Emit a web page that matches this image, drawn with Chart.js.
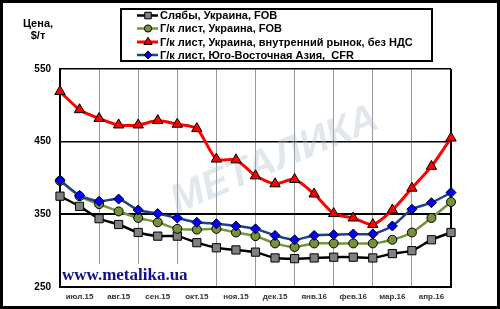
<!DOCTYPE html>
<html>
<head>
<meta charset="utf-8">
<script src="https://cdn.jsdelivr.net/npm/chart.js@4"></script>
<style>
  body { margin: 0; background: #fff; }
  #wrap { width: 500px; height: 309px; position: relative; }
</style>
</head>
<body>
<div id="wrap"><canvas id="chart"></canvas></div>
<script>
const months = ['июл.15', 'авг.15', 'сен.15', 'окт.15', 'ноя.15', 'дек.15', 'янв.16', 'фев.16', 'мар.16', 'апр.16'];

// two readings per month, 21 points
const slabsUa = [375, 361, 344, 336, 325, 320, 320, 311, 304, 301, 298, 290, 289, 290, 291, 291, 290, 296, 300, 315, 325];
const hrcUaFob = [396, 375, 364, 354, 345, 339, 330, 329, 330, 325, 320, 310, 305, 310, 310, 310, 310, 315, 325, 345, 367];
const hrcUaDomestic = [519, 494, 482, 473, 473, 479, 474, 468, 426, 425, 403, 392, 398, 378, 351, 345, 336, 356, 386, 416, 455];
const hrcSeAsia = [397, 376, 368, 371, 356, 351, 345, 339, 337, 334, 330, 321, 315, 321, 322, 323, 323, 334, 357, 366, 380];

const seriesNames = [
    'Слябы, Украина, FOB',
    'Г/к лист, Украина, FOB',
    'Г/к лист, Украина, внутренний рынок, без НДС',
    'Г/к лист, Юго-Восточная Азия,  CFR'
];

// month label sits on every odd point, between the month gridlines
const categories = [];
for (let i = 0; i < slabsUa.length; i++) {
    categories.push(i % 2 === 1 ? months[(i - 1) / 2] : '');
}

const datasets = [
    { label: seriesNames[3], data: hrcSeAsia, borderColor: '#1F3F8F', backgroundColor: '#0000FF',
      pointStyle: 'rectRot', pointRadius: 5, borderWidth: 2.5, order: 0 },
    { label: seriesNames[1], data: hrcUaFob, borderColor: '#76923C', backgroundColor: '#76923C',
      pointStyle: 'circle', pointRadius: 4.5, borderWidth: 2.5, order: 1 },
    { label: seriesNames[2], data: hrcUaDomestic, borderColor: '#FF0000', backgroundColor: '#FF0000',
      pointStyle: 'triangle', pointRadius: 6, borderWidth: 3, order: 2 },
    { label: seriesNames[0], data: slabsUa, borderColor: '#000000', backgroundColor: '#808080',
      pointStyle: 'rect', pointRadius: 5.8, borderWidth: 2.5, order: 3 }
];
datasets.forEach(ds => {
    ds.pointBorderColor = '#000';
    ds.pointBorderWidth = 1;
    ds.tension = 0.25;
    ds.fill = false;
});

const legendOrder = [3, 1, 2, 0];

const decor = {
    id: 'decor',
    beforeDraw(chart) {
        const ctx = chart.ctx;
        ctx.save();
        ctx.fillStyle = '#fff';
        ctx.fillRect(0, 0, chart.width, chart.height);
        ctx.restore();
    },
    beforeDatasetsDraw(chart) {
        const ctx = chart.ctx;
        const a = chart.chartArea;
        ctx.save();
        // watermark
        ctx.translate(275, 160);
        ctx.rotate(-0.4);
        ctx.transform(1, 0, -0.2, 1, 0, 0);
        ctx.font = 'bold 40px "Liberation Sans", Arial, sans-serif';
        ctx.fillStyle = 'rgba(170,185,200,0.35)';
        ctx.textAlign = 'center';
        ctx.textBaseline = 'middle';
        ctx.fillText('МЕТАЛИКА', 0, 0);
        ctx.restore();

        ctx.save();
        ctx.fillStyle = '#fff';
        ctx.fillRect(a.left + 1, 264, 140, a.bottom - 265);
        ctx.font = 'bold 17px "Liberation Serif", "Times New Roman", serif';
        ctx.fillStyle = '#10108A';
        ctx.textBaseline = 'alphabetic';
        ctx.fillText('www.metalika.ua', 62, 280);
        ctx.restore();
    },
    afterDraw(chart) {
        const ctx = chart.ctx;
        ctx.save();
        // legend box
        ctx.strokeStyle = '#000';
        ctx.lineWidth = 2;
        ctx.strokeRect(121, 9, 311, 52);
        ctx.font = 'bold 11px "Liberation Sans", Arial, sans-serif';
        ctx.textBaseline = 'middle';
        const rows = [15.5, 28.5, 42, 55];
        legendOrder.forEach((di, r) => {
            const ds = chart.data.datasets[di];
            const y = rows[r];
            ctx.strokeStyle = ds.borderColor;
            ctx.lineWidth = ds.borderWidth;
            ctx.beginPath();
            ctx.moveTo(137, y);
            ctx.lineTo(158, y);
            ctx.stroke();
            ctx.fillStyle = ds.backgroundColor;
            ctx.strokeStyle = '#000';
            ctx.lineWidth = 1;
            Chart.helpers.drawPoint(ctx, { pointStyle: ds.pointStyle, radius: ds.pointRadius * 0.8, borderWidth: 1, rotation: 0 }, 148, y);
            ctx.fillStyle = '#000';
            ctx.textAlign = 'left';
            ctx.fillText(ds.label, 160, y + 0.5);
        });
        // axis caption
        ctx.textAlign = 'center';
        ctx.fillText('Цена,', 38, 24);
        ctx.fillText('$/т', 38, 36);
        // outer frame
        ctx.lineWidth = 3;
        ctx.strokeRect(1.5, 1.5, chart.width - 3, chart.height - 3);
        ctx.restore();
    }
};

new Chart(document.getElementById('chart'), {
    type: 'line',
    data: { labels: categories, datasets: datasets },
    options: {
        responsive: true,
        maintainAspectRatio: false,
        animation: false,
        layout: { padding: { top: 69, right: 49, bottom: 0, left: 0 } },
        plugins: { legend: { display: false }, tooltip: { enabled: false } },
        scales: {
            x: {
                grid: {
                    drawTicks: false,
                    color: c => (c.index % 2 === 0 ? (c.index === 20 ? '#000' : '#9a9a9a') : 'rgba(0,0,0,0)'),
                    lineWidth: c => (c.index === 20 ? 2 : 1)
                },
                border: { color: '#000', width: 2 },
                ticks: {
                    autoSkip: false,
                    maxRotation: 0,
                    padding: 5,
                    color: '#333',
                    font: { family: '"Liberation Sans", Arial, sans-serif', size: 8, weight: 'bold' },
                    callback: (v, i) => categories[i]
                },
                afterFit: s => { s.height = 22; }
            },
            y: {
                min: 250,
                max: 550,
                grid: {
                    drawTicks: false,
                    color: c => (c.tick && c.tick.value === 250 ? 'rgba(0,0,0,0)' : '#000'),
                    lineWidth: c => (c.tick && c.tick.value === 350 ? 2 : 1.5)
                },
                border: { color: '#000', width: 2 },
                ticks: {
                    stepSize: 100,
                    padding: 9,
                    color: '#000',
                    font: { family: '"Liberation Sans", Arial, sans-serif', size: 10, weight: 'bold' }
                },
                afterFit: s => { s.width = 60; }
            }
        }
    },
    plugins: [decor]
});
</script>
</body>
</html>
